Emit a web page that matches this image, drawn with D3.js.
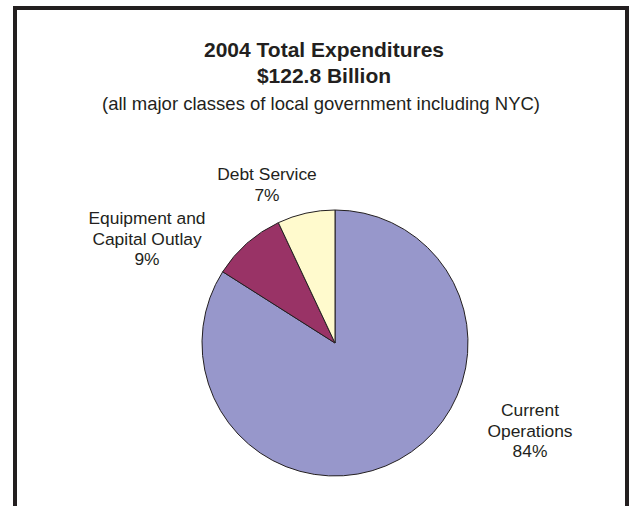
<!DOCTYPE html>
<html lang="en">
<head>
    <meta charset="UTF-8">
    <title>2004 Total Expenditures</title>
    <style>
        body { margin: 0; background: #fff; }
        svg { display: block; font-family: "Liberation Sans", Arial, sans-serif; }
        .title { font-size: 21px; font-weight: bold; fill: #231f20; text-anchor: middle; }
        .subtitle { font-size: 18.5px; fill: #231f20; text-anchor: middle; }
        .label { font-size: 17.4px; fill: #231f20; text-anchor: middle; }
        .slice { stroke: #231f20; stroke-width: 1; }
    </style>
</head>
<body>
    <div id="chart"></div>
    <script src="https://d3js.org/d3.v7.min.js"></script>
    <script>
        // Chart data
        const categories = ["Current Operations", "Equipment and Capital Outlay", "Debt Service"];
        const shares = [84, 9, 7];
        const labelLines = [["Current", "Operations"], ["Equipment and", "Capital Outlay"], ["Debt Service"]];
        const sliceColors = ["#9797cb", "#993366", "#fffacd"];

        // Layout
        const width = 631, height = 506;
        const cx = 335, cy = 343, radius = 133;
        // label anchors relative to pie centre (top line baseline)
        const labelOffsets = [[195, 73], [-188, -119], [-68, -163]];
        const lineHeight = 20.7;

        const svg = d3.select("#chart").append("svg")
            .attr("width", width)
            .attr("height", height);

        svg.append("rect")
            .attr("x", 15).attr("y", 8)
            .attr("width", 612).attr("height", 520)
            .attr("fill", "#fff")
            .attr("stroke", "#231f20")
            .attr("stroke-width", 4);

        svg.append("text").attr("class", "title")
            .attr("x", 324).attr("y", 57)
            .text("2004 Total Expenditures");
        svg.append("text").attr("class", "title")
            .attr("x", 324).attr("y", 83)
            .text("$122.8 Billion");
        svg.append("text").attr("class", "subtitle")
            .attr("x", 321).attr("y", 110)
            .text("(all major classes of local government including NYC)");

        const pie = d3.pie().sort(null).value(d => d);
        const arcs = pie(shares);
        const arc = d3.arc().innerRadius(0).outerRadius(radius);

        const g = svg.append("g")
            .attr("transform", "translate(" + cx + "," + cy + ")");

        g.selectAll(".slice")
            .data(arcs)
            .enter().append("path")
            .attr("class", "slice")
            .attr("fill", (d, i) => sliceColors[i])
            .attr("d", arc);

        // Labels: category name lines followed by the percentage
        const label = g.selectAll(".label")
            .data(arcs)
            .enter().append("text")
            .attr("class", "label")
            .attr("transform", (d, i) => "translate(" + labelOffsets[i][0] + "," + labelOffsets[i][1] + ")");

        label.each(function (d, i) {
            const lines = labelLines[i].concat([shares[i] + "%"]);
            d3.select(this).selectAll("tspan")
                .data(lines)
                .enter().append("tspan")
                .attr("x", 0)
                .attr("y", (t, j) => j * lineHeight)
                .text(t => t);
        });
    </script>
</body>
</html>
